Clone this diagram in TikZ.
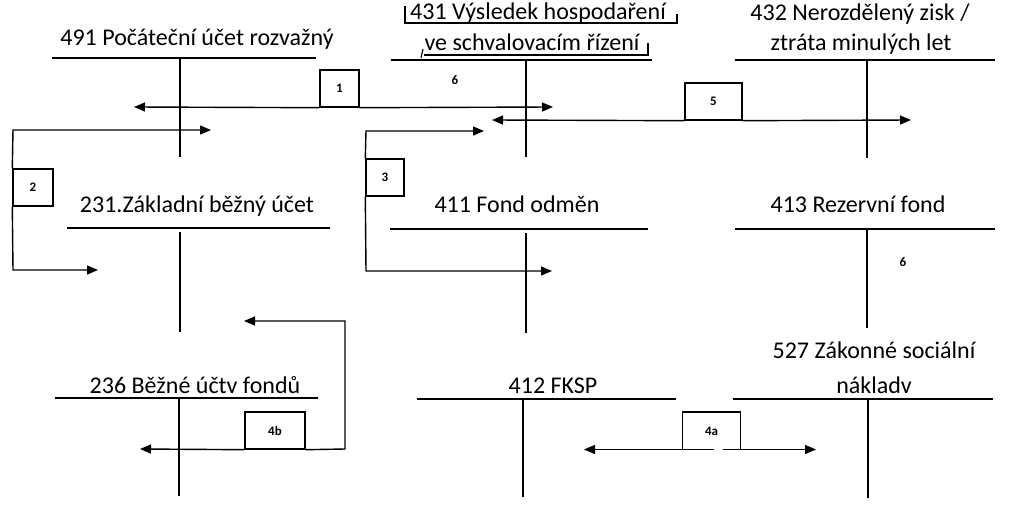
\documentclass[tikz,border=0pt]{standalone}
\usepackage{fontspec}
\setmainfont{Carlito}
\usetikzlibrary{arrows.meta}
\begin{document}
\begin{tikzpicture}[x=1pt,y=-1pt,
  tline/.style={line width=1.4pt},
  thin/.style={line width=1.1pt},
  title/.style={font=\fontsize{24}{26}\selectfont, inner sep=0pt, anchor=base},
  flow/.style={line width=1.4pt, -{Triangle[length=11pt,width=9pt]}},
  plain/.style={line width=1.4pt},
  numbox/.style={draw, line width=1.4pt, minimum width=38pt, minimum height=37pt, inner sep=0pt,
    font=\bfseries\fontsize{13}{14}\selectfont},
  num/.style={font=\bfseries\fontsize{13}{14}\selectfont, inner sep=0pt}]
\useasboundingbox (0,0) rectangle (1009,518);

% ---------- T-account titles ----------
\node[title] (t491) at (197,46) {491 Počáteční účet rozvažný};
\node[title] (t431a) at (538,20) {431 Výsledek hospodaření};
\node[title] (t431b) at (532,51) {ve schvalovacím řízení};
\node[title] (t432a) at (860,21) {432 Nerozdělený zisk /};
\node[title] (t432b) at (861,51) {ztráta minulých let};
\node[title] (t231) at (197,213) {231.Základní běžný účet};
\node[title] (t411) at (517,213) {411 Fond odměn};
\node[title] (t413) at (858,213) {413 Rezervní fond};
\node[title] (t236) at (195,393) {236 Běžné účtv fondů};
\node[title] (t412) at (553,393) {412 FKSP};
\node[title] (t527a) at (874,359) {527 Zákonné sociální};
\node[title] (t527b) at (874,393) {nákladv};

% bracket marks around the 431 title
\draw[thin] (405,6) -- (405,23) -- (677,23) -- (677,14);
\draw[thin] (423,49) -- (421,58);
\draw[thin] (424,55) -- (648,55) -- (648,43);

% ---------- T-accounts ----------
\draw[tline] (52,58) -- (316,58);  \draw[tline] (180,58) -- (180,157);
\draw[tline] (391,60) -- (652,60); \draw[tline] (526,60) -- (526,157);
\draw[tline] (735,60) -- (995,60); \draw[tline] (867,60) -- (867,158);
\draw[tline] (67,228) -- (330,228); \draw[tline] (180,232) -- (180,332);
\draw[tline] (390,229) -- (648,229); \draw[tline] (526,233) -- (526,333);
\draw[tline] (735,229) -- (995,229); \draw[tline] (867,229) -- (867,328);
\draw[tline] (55,398) -- (318,398); \draw[tline] (179,398) -- (179,496);
\draw[tline] (417,399) -- (676,399); \draw[tline] (523,399) -- (523,497);
\draw[tline] (733,399) -- (993,399); \draw[tline] (868,399) -- (868,498);

\node[num] (six1) at (455,80) {6};
\node[num] (six2) at (903,262) {6};

% ---------- transaction 1 ----------
\node[numbox, minimum width=39pt] (b1) at (339.5,88.5) {1};
\coordinate (e1l) at (134,107);
\coordinate (e1r) at (553,107);
\draw[flow] (b1.south west) -- (e1l);
\draw[flow] (b1.south east) -- (e1r);

% ---------- transaction 5 ----------
\node[numbox, minimum width=57pt] (b5) at (713.5,101.5) {5};
\coordinate (e5l) at (492,120);
\coordinate (e5r) at (911,120);
\draw[flow] (b5.south west) -- (e5l);
\draw[flow] (b5.south east) -- (e5r);

% ---------- transaction 2 ----------
\node[numbox, minimum width=40pt] (b2) at (33,187.5) {2};
\coordinate (c2t) at (13,130);
\coordinate (c2b) at (13,270);
\coordinate (e2t) at (211,130);
\coordinate (e2b) at (98,270);
\draw[flow] (b2.north west) -- (c2t) -- (e2t);
\draw[flow] (b2.south west) -- (c2b) -- (e2b);

% ---------- transaction 3 ----------
\node[numbox, minimum width=38pt] (b3) at (385,177.5) {3};
\coordinate (c3t) at (366,131);
\coordinate (c3b) at (366,271);
\coordinate (e3t) at (484,131);
\coordinate (e3b) at (552,271);
\draw[flow] (b3.north west) -- (c3t) -- (e3t);
\draw[flow] (b3.south west) -- (c3b) -- (e3b);

% ---------- transaction 4b ----------
\node[numbox, minimum width=60pt] (b4b) at (275,430.5) {4b};
\coordinate (c4a) at (345,449);
\coordinate (c4b) at (345,321);
\coordinate (e4t) at (244,321);
\coordinate (e4l) at (140,449);
\draw[flow] (b4b.south east) -- (c4a) -- (c4b) -- (e4t);
\draw[flow] (b4b.south west) -- (e4l);

% ---------- transaction 4a ----------
\node[numbox, minimum width=57pt, draw=none] (b4a) at (711.5,431) {4a};
\draw[plain] (b4a.south west) -- (b4a.north west) -- (b4a.north east) -- (b4a.south east);
\coordinate (g4l) at (714,449.5);
\coordinate (g4r) at (723,449.5);
\coordinate (e4al) at (584,449.5);
\coordinate (e4ar) at (816,449.5);
\draw[flow] (g4l) -- (e4al);
\draw[flow] (g4r) -- (e4ar);
\end{tikzpicture}
\end{document}
